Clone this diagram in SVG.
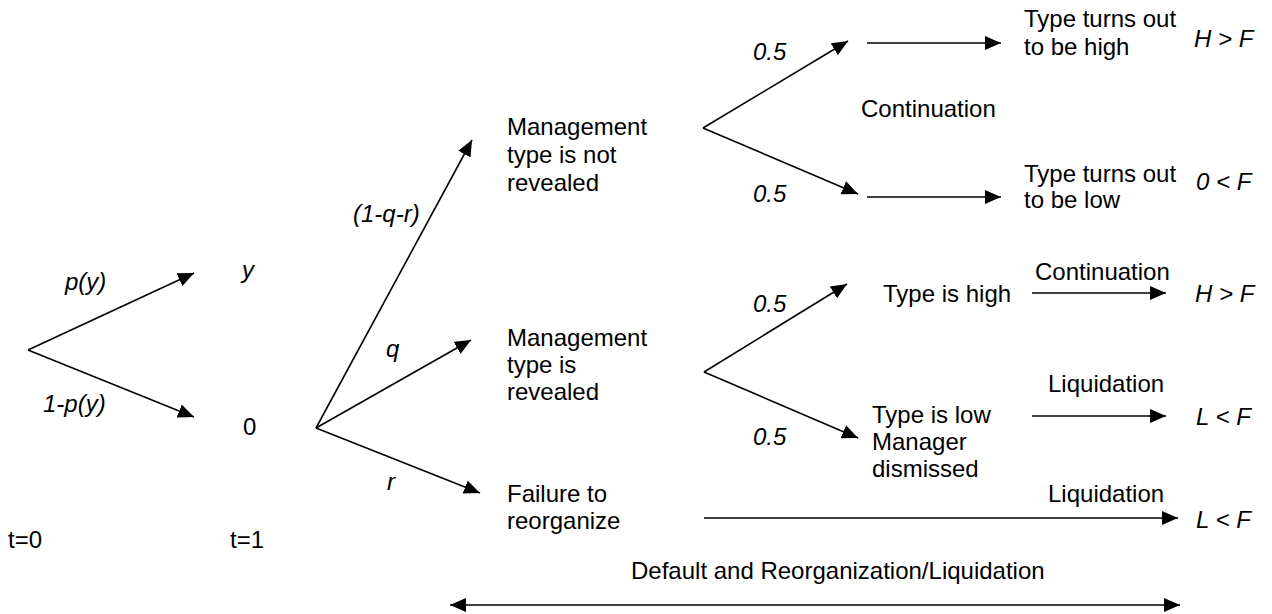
<svg xmlns="http://www.w3.org/2000/svg" width="1272" height="614" viewBox="0 0 1272 614">
<style>
text{font-family:"Liberation Sans",Arial,sans-serif;font-size:24px;fill:#000}
.i{font-style:italic}
.c line{stroke:#000;stroke-width:1.6;fill:none}
</style>
<defs>
<marker id="ah" markerUnits="userSpaceOnUse" markerWidth="16" markerHeight="14" refX="16" refY="7" orient="auto-start-reverse" viewBox="0 0 16 14">
<path d="M0,0 L16,7 L0,14 z" fill="#000"/>
</marker>
</defs>
<rect width="1272" height="614" fill="#fff"/>
<g class="c" id="connectors">
<line x1="28" y1="350" x2="194" y2="273" marker-end="url(#ah)"/>
<line x1="28" y1="350" x2="194" y2="417" marker-end="url(#ah)"/>
<line x1="316" y1="428" x2="472" y2="140" marker-end="url(#ah)"/>
<line x1="316" y1="428" x2="471" y2="340" marker-end="url(#ah)"/>
<line x1="316" y1="428" x2="480" y2="493" marker-end="url(#ah)"/>
<line x1="703" y1="128" x2="848" y2="41" marker-end="url(#ah)"/>
<line x1="703" y1="128" x2="858" y2="194" marker-end="url(#ah)"/>
<line x1="867" y1="43" x2="1001" y2="43" marker-end="url(#ah)"/>
<line x1="867" y1="197" x2="1001" y2="197" marker-end="url(#ah)"/>
<line x1="704" y1="372" x2="847" y2="284" marker-end="url(#ah)"/>
<line x1="704" y1="372" x2="858" y2="438" marker-end="url(#ah)"/>
<line x1="1032" y1="293" x2="1166" y2="293" marker-end="url(#ah)"/>
<line x1="1032" y1="416" x2="1166" y2="416" marker-end="url(#ah)"/>
<line x1="704" y1="518" x2="1178" y2="518" marker-end="url(#ah)"/>
<line x1="450" y1="605" x2="1180" y2="605" marker-start="url(#ah)" marker-end="url(#ah)"/>
</g>
<g id="labels">
<text class="i" x="65" y="290">p(y)</text>
<text class="i" x="43" y="412">1-p(y)</text>
<text class="i" x="353" y="222">(1-q-r)</text>
<text class="i" x="386" y="357">q</text>
<text class="i" x="387" y="490">r</text>
<text class="i" x="753" y="60">0.5</text>
<text class="i" x="753" y="202">0.5</text>
<text class="i" x="753" y="312">0.5</text>
<text class="i" x="753" y="445">0.5</text>
<text x="861" y="117">Continuation</text>
<text x="1035" y="280">Continuation</text>
<text x="1048" y="392">Liquidation</text>
<text x="1048" y="502">Liquidation</text>
<text x="631" y="579">Default and Reorganization/Liquidation</text>
</g>
<g id="n-root"><text x="8" y="548">t=0</text></g>
<g id="n-t1"><text x="230" y="548">t=1</text></g>
<g id="n-y"><text class="i" x="242" y="278">y</text></g>
<g id="n-0"><text x="243" y="435">0</text></g>
<g id="n-notrev"><text x="507" y="135">Management</text><text x="507" y="163">type is not</text><text x="507" y="191">revealed</text></g>
<g id="n-rev"><text x="507" y="346">Management</text><text x="507" y="373">type is</text><text x="507" y="400">revealed</text></g>
<g id="n-fail"><text x="507" y="502">Failure to</text><text x="507" y="529">reorganize</text></g>
<g id="n-high1"><text x="1024" y="27">Type turns out</text><text x="1024" y="55">to be high</text></g>
<g id="n-low1"><text x="1024" y="182">Type turns out</text><text x="1024" y="208">to be low</text></g>
<g id="n-high2"><text x="883" y="302">Type is high</text></g>
<g id="n-low2"><text x="872" y="423">Type is low</text><text x="872" y="450">Manager</text><text x="872" y="477">dismissed</text></g>
<g id="o1"><text class="i" x="1194" y="47">H &gt; F</text></g>
<g id="o2"><text class="i" x="1196" y="190">0 &lt; F</text></g>
<g id="o3"><text class="i" x="1195" y="302">H &gt; F</text></g>
<g id="o4"><text class="i" x="1196" y="425">L &lt; F</text></g>
<g id="o5"><text class="i" x="1196" y="528">L &lt; F</text></g>
</svg>
